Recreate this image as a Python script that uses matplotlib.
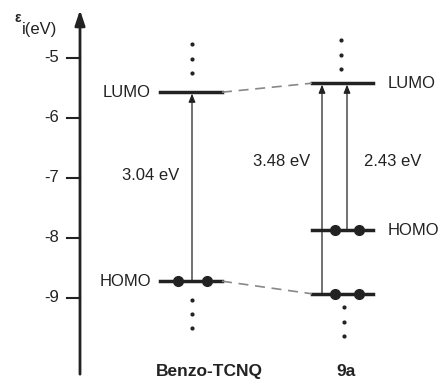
import matplotlib.pyplot as plt

plt.rcParams['font.family'] = ['Liberation Sans', 'DejaVu Sans']

# energy levels (eV)
benzo_lumo = -5.57
benzo_homo = -8.72
a9_lumo = -5.42
a9_homo = -7.87
a9_low = -8.93

yticks = [-5, -6, -7, -8, -9]
gap_labels = ['3.04 eV', '3.48 eV', '2.43 eV']
names = ['Benzo-TCNQ', '9a']

# horizontal column positions (pixels in a 446 wide figure)
bx0, bx1, bxc = 160, 222, 192
ax0, ax1 = 312, 373
arr1, arr2 = 322, 347
e_b = [178, 207]
e_a = [335, 359]

ink = '#222222'

fig = plt.figure(figsize=(4.46, 3.8), dpi=100)
ax = fig.add_axes([0, 0, 1, 1])
ax.set_xlim(0, 446)
ax.set_ylim(-5 - 322 / 60, -5 + 58 / 60)
ax.axis('off')

# y axis with arrow
ax.annotate('', xy=(80, -4.20), xytext=(80, -10.27),
            arrowprops=dict(arrowstyle='-|>,head_length=0.9,head_width=0.3',
                            color=ink, lw=2, shrinkA=0, shrinkB=0))
for t in yticks:
    ax.plot([67, 80], [t, t], color=ink, lw=1.5)
    ax.text(59, t, str(t), ha='right', va='center', fontsize=12, color=ink)
ax.text(18, -4.33, '\u03b5', ha='center', va='center', fontsize=10, color=ink,
        fontweight='bold')
ax.text(22, -4.53, 'i(eV)', ha='left', va='center', fontsize=12, color=ink)

# levels
ax.plot([bx0, bx1], [benzo_lumo, benzo_lumo], color=ink, lw=2.5)
ax.plot([bx0, bx1], [benzo_homo, benzo_homo], color=ink, lw=2.5)
ax.plot([ax0, ax1], [a9_lumo, a9_lumo], color=ink, lw=2.5)
ax.plot([ax0, ax1], [a9_homo, a9_homo], color=ink, lw=2.5)
ax.plot([ax0, ax1], [a9_low, a9_low], color=ink, lw=2.5)

# correlation dashes
ax.plot([bx1, ax0], [benzo_lumo, a9_lumo], color='#888888', lw=1.2, ls=(0, (6, 4)))
ax.plot([bx1, ax0], [benzo_homo, a9_low], color='#888888', lw=1.2, ls=(0, (6, 4)))

# electrons
ax.plot(e_b, [benzo_homo] * 2, 'o', color=ink, ms=7)
ax.plot(e_a, [a9_homo] * 2, 'o', color=ink, ms=7)
ax.plot(e_a, [a9_low] * 2, 'o', color=ink, ms=7)

# excitation arrows
arrow = dict(arrowstyle='-|>,head_length=0.5,head_width=0.2', color=ink, lw=0.9,
             shrinkA=0, shrinkB=1)
ax.annotate('', xy=(bxc, benzo_lumo), xytext=(bxc, benzo_homo), arrowprops=arrow)
ax.annotate('', xy=(arr1, a9_lumo), xytext=(arr1, a9_low), arrowprops=arrow)
ax.annotate('', xy=(arr2, a9_lumo), xytext=(arr2, a9_homo), arrowprops=arrow)

# dots for further levels
ax.plot([bxc] * 3, [-4.77, -5.02, -5.25], 'o', color=ink, ms=2)
ax.plot([bxc] * 3, [-9.03, -9.27, -9.50], 'o', color=ink, ms=2)
ax.plot([341] * 3, [-4.70, -4.95, -5.18], 'o', color=ink, ms=2)
ax.plot([344] * 3, [-9.15, -9.40, -9.63], 'o', color=ink, ms=2)

# labels
fs = 12
ax.text(151, benzo_lumo, 'LUMO', ha='right', va='center', fontsize=fs, color=ink)
ax.text(151, benzo_homo, 'HOMO', ha='right', va='center', fontsize=fs, color=ink)
ax.text(388, a9_lumo, 'LUMO', ha='left', va='center', fontsize=fs, color=ink)
ax.text(388, a9_homo, 'HOMO', ha='left', va='center', fontsize=fs, color=ink)
ax.text(151, -6.95, gap_labels[0], ha='center', va='center', fontsize=fs, color=ink)
ax.text(282, -6.73, gap_labels[1], ha='center', va='center', fontsize=fs, color=ink)
ax.text(393, -6.73, gap_labels[2], ha='center', va='center', fontsize=fs, color=ink)
ax.text(209, -10.23, names[0], ha='center', va='center', fontsize=12.5,
        fontweight='bold', color=ink)
ax.text(346, -10.23, names[1], ha='center', va='center', fontsize=12.5,
        fontweight='bold', color=ink)

fig.savefig('out.png', dpi=100)
